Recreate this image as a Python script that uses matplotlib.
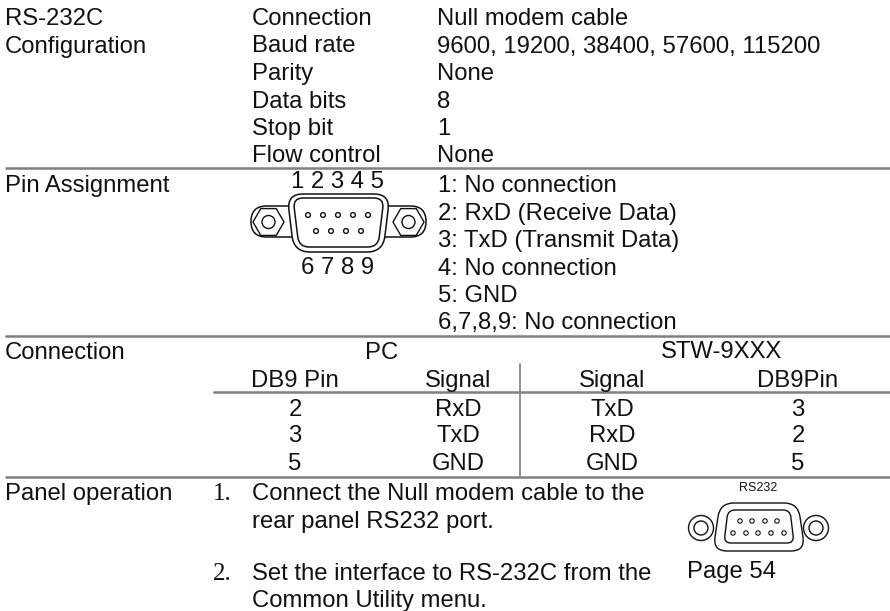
#!/usr/bin/env python3
import numpy as np
from matplotlib import pyplot as plt
from matplotlib.patches import Circle, FancyBboxPatch, PathPatch, RegularPolygon
from matplotlib.path import Path

config_names = ["Connection", "Baud rate", "Parity", "Data bits", "Stop bit", "Flow control"]
config_values = ["Null modem cable", "9600, 19200, 38400, 57600, 115200", "None", "8", "1", "None"]
pin_labels = ["1: No connection", "2: RxD (Receive Data)", "3: TxD (Transmit Data)",
              "4: No connection", "5: GND", "6,7,8,9: No connection"]
table_header = ["DB9 Pin", "Signal", "Signal", "DB9Pin"]
table_rows = [["2", "RxD", "TxD", "3"], ["3", "TxD", "RxD", "2"], ["5", "GND", "GND", "5"]]
step_lines = ["Connect the Null modem cable to the", "rear panel RS232 port.",
              "Set the interface to RS-232C from the", "Common Utility menu."]

FS = 17.2
W, H = 890, 611
TC = '#111111'
GREY = '#808080'
plt.rcParams['font.family'] = ['Liberation Sans', 'DejaVu Sans']
fig = plt.figure(figsize=(W/100, H/100), dpi=100)
ax = fig.add_axes([0, 0, 1, 1])
ax.set_xlim(0, W)
ax.set_ylim(H, 0)
ax.axis('off')

def txt(x, y, s, ha='left', fs=FS, **kw):
    ax.text(x, y, s, ha=ha, va='baseline', fontsize=fs, color=TC, **kw)

def rule(x0, x1, y, lw=1.8):
    ax.plot([x0, x1], [y, y], color=GREY, lw=lw, solid_capstyle='butt')

def rounded(pts, r, lw=1.1):
    # closed polygon with rounded corners
    pts = np.array(pts, float)
    n = len(pts)
    verts, codes = [], []
    for i in range(n):
        p, a, b = pts[i], pts[i-1], pts[(i+1) % n]
        p0 = p + (a-p)/np.linalg.norm(a-p)*r
        p1 = p + (b-p)/np.linalg.norm(b-p)*r
        verts += [p0, p, p1]
        codes += [Path.MOVETO if i == 0 else Path.LINETO, Path.CURVE3, Path.CURVE3]
    verts.append(verts[0])
    codes.append(Path.CLOSEPOLY)
    ax.add_patch(PathPatch(Path(verts, codes), fc='white', ec=TC, lw=lw))

def pins(xs, y, r=2.4, lw=1.0):
    for x in xs:
        ax.add_patch(Circle((x, y), r, fc='white', ec=TC, lw=lw))

# first block
txt(5, 25, "RS-232C")
txt(5, 52.5, "Configuration")
cfg_base = [25, 52.5, 80, 107.5, 135, 162.5]
for y, a, b in zip(cfg_base, config_names, config_values):
    txt(252, y, a)
    txt(437, y, b)
rule(5, 890, 168)

# pin assignment
pin_base = [192, 220, 247, 275, 302, 329]
txt(5, 192, "Pin Assignment")
txt(337.5, 188, "1 2 3 4 5", ha='center')
txt(337.5, 274, "6 7 8 9", ha='center')
for y, s in zip(pin_base, pin_labels):
    txt(438, y, s)
ax.add_patch(FancyBboxPatch((251, 206), 175, 31, boxstyle="round,pad=0,rounding_size=15.5",
                            fc='white', ec=TC, lw=1.1))
for cx in (268.5, 408.5):
    ax.add_patch(RegularPolygon((cx, 222), 6, radius=15.5, orientation=np.pi/6, fc='white', ec=TC, lw=1.0))
    ax.add_patch(Circle((cx, 222), 6.5, fc='white', ec=TC, lw=1.0))
rounded([(287, 194), (390, 194), (383, 252), (294, 252)], 16)
rounded([(293, 198), (384, 198), (378, 247), (299, 247)], 10)
pins([308, 323, 338, 353, 368], 215)
pins([316, 331, 346, 361], 231)
rule(5, 890, 336)

# connection table
txt(5, 359, "Connection")
txt(382, 359, "PC", ha='center')
txt(722, 358, "STW-9XXX", ha='center')
col_x = [295, 458, 612, 798]
for x, s in zip(col_x, table_header):
    txt(x, 387, s, ha='center')
rule(213, 890, 392)
ax.plot([520, 520], [364, 477], color=GREY, lw=1.2)
row_base = [416, 442, 469.5]
for y, row in zip(row_base, table_rows):
    for x, s in zip(col_x, row):
        txt(x, y, s, ha='center')
rule(5, 890, 477)

# panel operation
txt(5, 500, "Panel operation")
txt(213, 500, "1.", family='Liberation Serif', fs=18)
txt(213, 580, "2.", family='Liberation Serif', fs=18)
step_base = [500, 528, 580, 607]
for y, s in zip(step_base, step_lines):
    txt(252, y, s)

txt(758, 491, "RS232", ha='center', fs=9)
for cx in (701, 816):
    ax.add_patch(Circle((cx, 528), 12.5, fc='white', ec=TC, lw=1.0))
    ax.add_patch(Circle((cx, 528), 7, fc='white', ec=TC, lw=1.0))
rounded([(720, 503), (798, 503), (805, 551), (713, 551)], 14, lw=1.0)
rounded([(728, 510), (790, 510), (794, 543), (724, 543)], 7, lw=1.0)
pins([740, 752, 765, 777], 521, r=2.2, lw=.8)
pins([733, 746, 758, 771, 784], 533, r=2.2, lw=.8)
txt(687, 578, "Page 54")

fig.savefig('out.png', dpi=100)
